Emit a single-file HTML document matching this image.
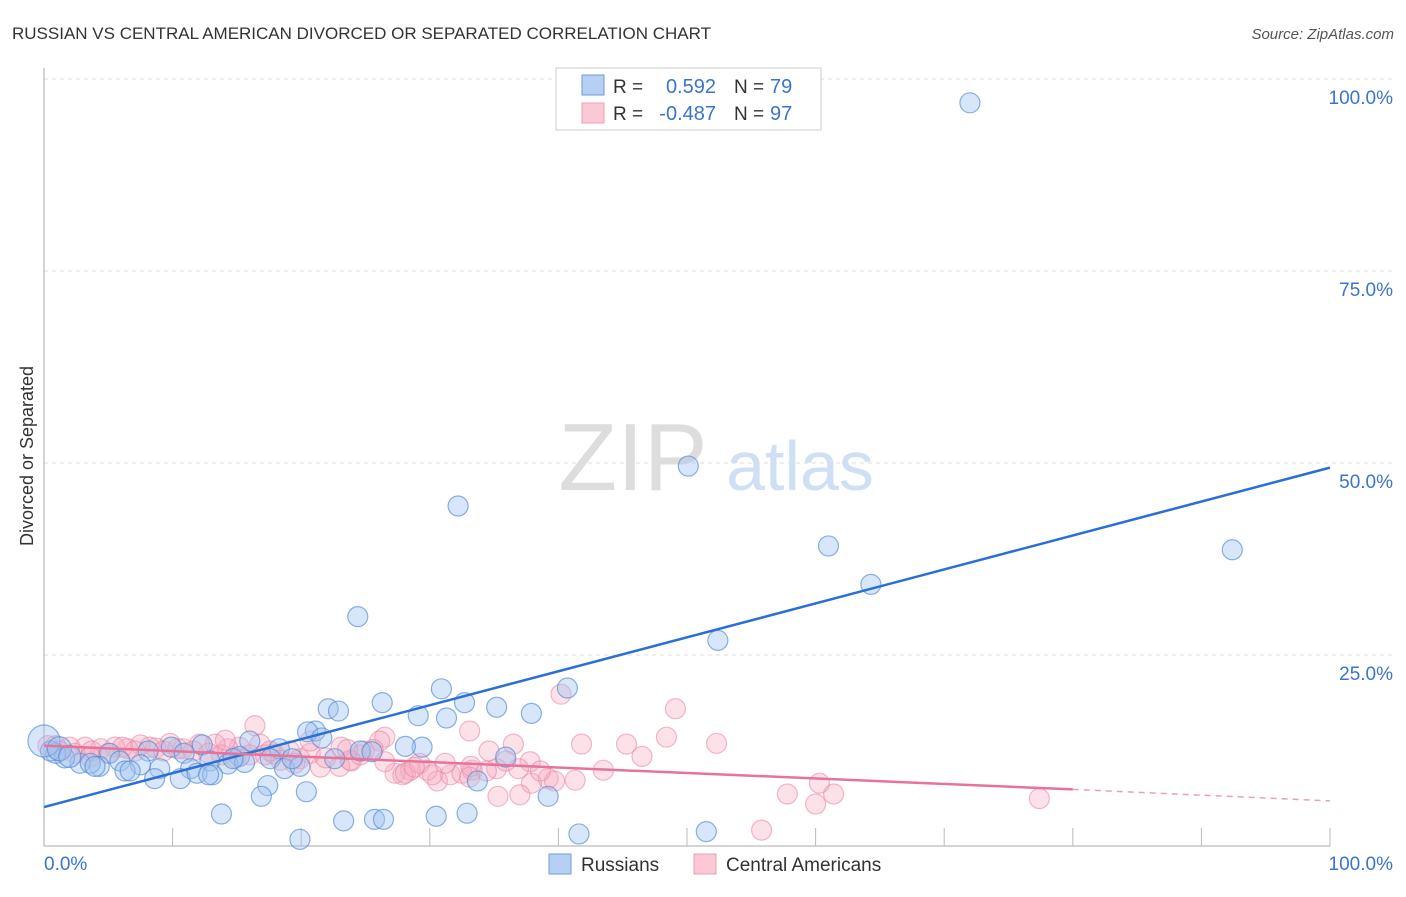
<!DOCTYPE html>
<html><head><meta charset="utf-8"><style>
body{margin:0;background:#fff;font-family:"Liberation Sans",sans-serif;}
svg text{font-family:"Liberation Sans",sans-serif;}
</style></head><body>
<svg id="chart" width="1406" height="892" viewBox="0 0 1406 892" xmlns="http://www.w3.org/2000/svg">
<text x="12" y="39" font-size="17" fill="#333">RUSSIAN VS CENTRAL AMERICAN DIVORCED OR SEPARATED CORRELATION CHART</text>
<text x="1394" y="39" font-size="15" fill="#555" text-anchor="end" font-style="italic">Source: ZipAtlas.com</text>
<text x="633" y="490" font-size="96" fill="#ddd" font-family="Liberation Serif" text-anchor="middle">ZIP</text>
<text x="800" y="490" font-size="70" fill="#cfe0f5" text-anchor="middle">atlas</text>
<text transform="translate(33,456) rotate(-90)" font-size="18" fill="#333" text-anchor="middle">Divorced or Separated</text>
<g id="grid"></g><g id="axes"></g><g id="pts"></g><g id="lines"></g>
<g>
<rect x="556" y="68" width="265" height="62" fill="#fff" stroke="#ccc"/>
<rect x="582" y="75" width="22" height="20" fill="#b5d0f3" stroke="#6f9ad8"/>
<rect x="582" y="103" width="22" height="20" fill="#fbc9d6" stroke="#eda0b6"/>
<text x="613" y="93" font-size="19" fill="#333">R =</text><text x="716" y="93" font-size="20" fill="#3a74d0" text-anchor="end">0.592</text>
<text x="734" y="93" font-size="19" fill="#333">N =</text><text x="770" y="93" font-size="20" fill="#3a74d0">79</text>
<text x="613" y="120" font-size="19" fill="#333">R =</text><text x="716" y="120" font-size="20" fill="#3a74d0" text-anchor="end">-0.487</text>
<text x="734" y="120" font-size="19" fill="#333">N =</text><text x="770" y="120" font-size="20" fill="#3a74d0">97</text>
</g>
<g>
<rect x="549" y="854" width="22" height="20" fill="#b5d0f3" stroke="#6f9ad8"/>
<text x="581" y="871" font-size="19" fill="#333">Russians</text>
<rect x="694" y="854" width="22" height="20" fill="#fbc9d6" stroke="#eda0b6"/>
<text x="726" y="871" font-size="19" fill="#333">Central Americans</text>
</g>
</svg>
<script>
const yTicks=[0,25,50,75,100];
const yTickLabels=["","25.0%","50.0%","75.0%","100.0%"];
const xTicks=[10,20,30,40,50,60,70,80,90,100];
const russiansX=[72.0,50.1,32.2,61.0,92.4,64.3,24.4,52.4,26.3,40.7,30.9,32.7,35.2,22.1,22.9,37.9,29.1,31.3,21.1,20.5,21.6,16.0,12.3,18.3,24.6,29.4,35.9,22.6,9.9,10.9,15.2,5.1,8.1,5.9,4.3,2.8,1.6,0.9,0.5,3.6,7.5,9.0,11.4,12.9,14.3,15.6,17.6,18.7,19.9,6.3,8.6,10.6,11.9,13.1,17.4,16.9,20.4,12.8,39.2,33.7,13.8,23.3,25.7,26.4,30.5,32.9,19.9,41.6,51.5,0,1.2,2.0,3.97,6.7,14.7,19.3,28.1,25.5];
const russiansY=[96.9,49.6,44.4,39.2,38.7,34.2,30.0,26.9,18.8,20.7,20.6,18.8,18.2,18.0,17.7,17.4,17.1,16.8,15.1,15.0,14.2,13.8,13.3,12.8,12.5,13.0,11.7,11.5,13.0,12.2,11.8,12.2,12.5,11.2,10.5,10.9,11.6,12.2,12.5,10.9,10.7,10.2,10.2,11.2,10.8,11.0,11.5,10.2,10.5,9.9,8.9,8.9,9.6,9.4,8.0,6.6,7.2,9.4,6.6,8.6,4.3,3.4,3.6,3.6,4.0,4.4,1.0,1.7,2.0,13.8,12.8,11.8,10.5,9.9,11.5,11.5,13.1,12.4];
const russiansR=[10,10,10,10,10,10,10,10,10,10,10,10,10,10,10,10,10,10,10,10,10,10,10,10,10,10,10,10,10,10,10,10,10,10,10,10,10,10,10,10,10,10,10,10,10,10,10,10,10,10,10,10,10,10,10,10,10,10,10,10,10,10,10,10,10,10,10,10,10,16,12,11,10,10,10,10,10,10];
const centralX=[77.4,55.8,60.0,61.4,60.3,57.8,49.1,48.4,52.3,45.3,46.5,43.5,41.8,40.2,41.3,39.2,37.9,36.5,34.6,33.1,33.3,35.2,37.8,39.7,36.9,38.6,37.0,35.3,30.6,31.6,32.5,29.8,28.5,27.3,27.9,26.5,26.1,24.9,23.9,23.0,21.5,19.9,19.1,17.9,16.4,16.8,15.2,14.3,13.3,12.1,10.8,9.8,8.7,7.5,6.5,5.5,4.4,3.2,2.0,0.9,0.3,1.2,2.4,3.7,5.0,6.1,7.1,8.2,9.3,10.4,11.6,12.8,13.8,14.9,16.0,17.2,18.4,19.5,20.7,21.9,23.1,23.8,24.6,25.6,26.5,28.1,29.2,31.2,33.2,34.4,35.9,33.1,28.8,30.2,23.6,20.7,14.1,3.6,17.6];
const centralY=[6.3,2.2,5.6,6.9,8.3,6.9,18.0,14.3,13.5,13.4,11.8,10.0,13.4,19.9,8.7,8.9,8.3,13.4,12.5,15.1,10.0,10.2,11.1,8.6,10.2,9.9,6.8,6.6,8.6,9.4,9.6,10.0,10.0,9.6,9.4,14.3,13.8,12.5,11.2,10.5,10.4,11.5,12.5,12.1,15.8,13.4,13.0,12.8,13.4,13.4,12.8,13.5,12.9,13.3,12.8,13.0,12.8,13.0,13.0,13.2,13.2,12.5,12.2,12.5,12.2,13.0,12.5,13.0,12.5,12.8,12.5,12.2,12.0,11.6,12.0,12.0,11.3,10.9,12.2,11.6,13.0,11.3,12.0,12.7,11.1,9.6,10.9,10.9,10.5,9.9,11.2,9.1,10.4,9.4,12.7,13.8,13.9,11.7,12.5];
const xAxis=v=>44+v*12.86;
const yAxis=v=>847-v*7.68;
const NS="http://www.w3.org/2000/svg";
function mk(tag,attrs,parent){const e=document.createElementNS(NS,tag);for(const k in attrs)e.setAttribute(k,attrs[k]);parent.appendChild(e);return e;}
const grid=document.getElementById('grid'),axes=document.getElementById('axes'),pts=document.getElementById('pts'),lines=document.getElementById('lines');
yTicks.forEach((t,i)=>{
 if(t>0){const g=mk('line',{x1:44,x2:1394,y1:yAxis(t),y2:yAxis(t),stroke:'#ddd','stroke-dasharray':'4,4'},grid);
 
 }
 if(yTickLabels[i]){const tx=mk('text',{x:1393,y:yAxis(t)+25,'font-size':19,fill:'#3a74d0','text-anchor':'end'},axes);tx.textContent=yTickLabels[i];
 
 }
});
mk('line',{x1:44,x2:44,y1:68,y2:846,stroke:'#aaa'},axes);
mk('line',{x1:44,x2:1330,y1:846,y2:846,stroke:'#aaa'},axes);
xTicks.forEach(t=>{const l=mk('line',{x1:xAxis(t),x2:xAxis(t),y1:828,y2:846,stroke:'#bbb'},axes);
 
 });
const x0=mk('text',{x:44,y:870,'font-size':19,fill:'#3a74d0'},axes);x0.textContent='0.0%';


const x1=mk('text',{x:1393,y:870,'font-size':19,fill:'#3a74d0','text-anchor':'end'},axes);x1.textContent='100.0%';


centralX.forEach((v,i)=>{const c=mk('circle',{cx:xAxis(v),cy:yAxis(centralY[i]),r:10,fill:'rgba(247,170,192,0.35)',stroke:'rgba(232,130,160,0.55)','stroke-width':1.2},pts);
 
 });
russiansX.forEach((v,i)=>{const c=mk('circle',{cx:xAxis(v),cy:yAxis(russiansY[i]),r:russiansR[i],fill:'rgba(160,196,240,0.42)',stroke:'rgba(80,135,210,0.65)','stroke-width':1.2},pts);
 
 });
const bl=mk('line',{x1:xAxis(0),y1:yAxis(5.2),x2:xAxis(100),y2:yAxis(49.4),stroke:'#2a6fd6','stroke-width':2.5},lines);


const pl=mk('line',{x1:xAxis(0),y1:yAxis(13.2),x2:xAxis(80),y2:yAxis(7.5),stroke:'#e8739a','stroke-width':2.5},lines);


const pd=mk('line',{x1:xAxis(80),y1:yAxis(7.5),x2:xAxis(100),y2:yAxis(6.0),stroke:'#e8a0b8','stroke-width':1.5,'stroke-dasharray':'6,5'},lines);


</script>
</body></html>
